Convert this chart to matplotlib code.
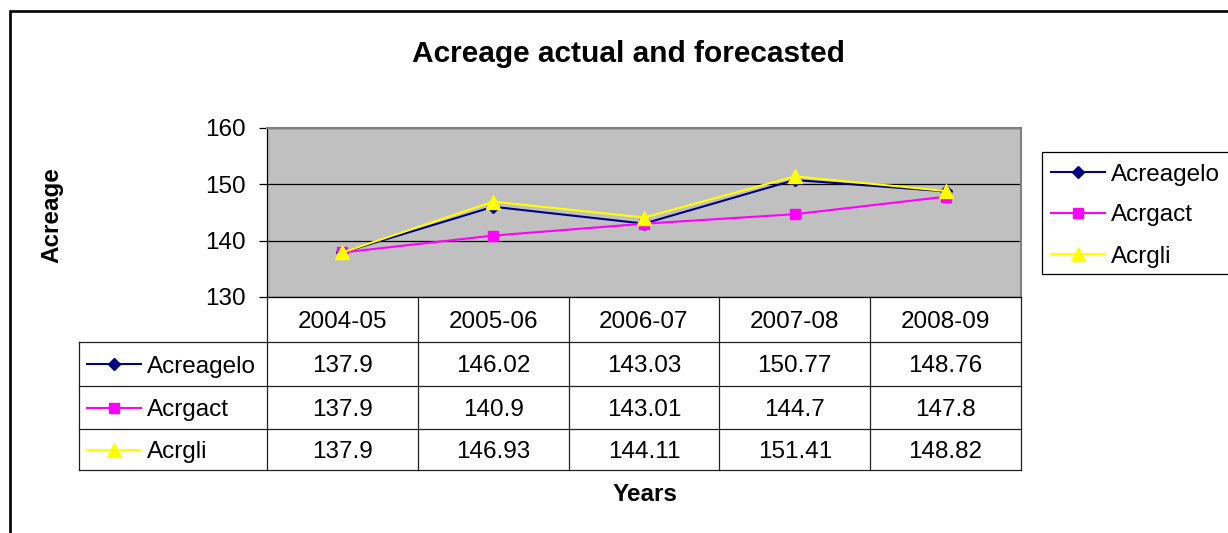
import matplotlib
matplotlib.use("Agg")
import matplotlib.pyplot as plt
from matplotlib.lines import Line2D
from matplotlib.patches import Rectangle

# ---- data ----
years = ["2004-05", "2005-06", "2006-07", "2007-08", "2008-09"]
acreagelo = [137.9, 146.02, 143.03, 150.77, 148.76]
acrgact = [137.9, 140.9, 143.01, 144.7, 147.8]
acrgli = [137.9, 146.93, 144.11, 151.41, 148.82]
series_names = ["Acreagelo", "Acrgact", "Acrgli"]
y_ticks = [130, 140, 150, 160]
title = "Acreage actual and forecasted"
x_label = "Years"
y_label = "Acreage"

plt.rcParams['font.family'] = ['Liberation Sans', 'DejaVu Sans']

W, H = 1228, 533
fig = plt.figure(figsize=(W / 100, H / 100), dpi=100)


def fx(x):
    return x / W


def fy(y):
    return 1 - y / H


FS = 17.5
DY = 2.5  # visual centering offset for digits/caps

styles = [
    dict(color='#000080', marker='D', ms=5.8),
    dict(color='#FF00FF', marker='s', ms=7.8),
    dict(color='#FFFF00', marker='^', ms=9.5),
]
all_series = [acreagelo, acrgact, acrgli]

# outer frame
fig.add_artist(Rectangle((fx(10), fy(600)), (1300 - 10) / W, (600 - 11) / H,
                         transform=fig.transFigure, fill=False,
                         edgecolor='black', lw=1.9))

# plot area
L, R, T, B = 267, 1021, 128, 297
ax = fig.add_axes([fx(L), fy(B), (R - L) / W, (B - T) / H])
ax.set_facecolor('#C0C0C0')
ax.set_xlim(-0.5, len(years) - 0.5)
ax.set_ylim(y_ticks[0], y_ticks[-1])
ax.set_yticks(y_ticks)
ax.set_xticks([])
ax.yaxis.grid(True, color='black', lw=0.9)
ax.set_axisbelow(True)
ax.tick_params(axis='y', length=6, width=0.9, labelsize=FS, pad=9, colors='black')
for k in ['top', 'right']:
    ax.spines[k].set_color('#808080')
    ax.spines[k].set_linewidth(1.5)
for k in ['left', 'bottom']:
    ax.spines[k].set_color('black')
    ax.spines[k].set_linewidth(0.9)

xs = list(range(len(years)))
for vals, st in zip(all_series, styles):
    ax.plot(xs, vals, color=st['color'], lw=1.5, marker=st['marker'],
            ms=st['ms'], mfc=st['color'], mec=st['color'], zorder=3)

# title and axis labels
fig.text(fx(628), fy(51 + DY), title, ha='center', va='center', fontsize=21.5, fontweight='bold')
fig.text(fx(645), fy(492 + DY), x_label, ha='center', va='center', fontsize=FS, fontweight='bold')
fig.text(fx(52), fy(215), y_label, ha='center', va='center', fontsize=FS,
         fontweight='bold', rotation=90)

# data table
tl = 79
row_lines = [342, 386, 429, 470]
colw = (R - L) / len(years)
lc = '#202020'


def hline(x0, x1, y):
    fig.add_artist(Line2D([fx(x0), fx(x1)], [fy(y), fy(y)], transform=fig.transFigure,
                          color=lc, lw=0.9))


def vline(x, y0, y1):
    fig.add_artist(Line2D([fx(x), fx(x)], [fy(y0), fy(y1)], transform=fig.transFigure,
                          color=lc, lw=0.9))


for y in row_lines:
    hline(tl, R, y)
vline(tl, row_lines[0], row_lines[-1])
for i in range(len(years) + 1):
    vline(L + i * colw, B, row_lines[-1])

for i, yr in enumerate(years):
    fig.text(fx(L + (i + 0.5) * colw), fy((B + row_lines[0]) / 2 + DY), yr,
             ha='center', va='center', fontsize=FS)

for r, (name, vals, st) in enumerate(zip(series_names, all_series, styles)):
    yc = (row_lines[r] + row_lines[r + 1]) / 2
    fig.add_artist(Line2D([fx(87), fx(141)], [fy(yc), fy(yc)], transform=fig.transFigure,
                          color=st['color'], lw=1.5))
    fig.add_artist(Line2D([fx(114)], [fy(yc)], transform=fig.transFigure, ls='none',
                          marker=st['marker'], ms=st['ms'], mfc=st['color'], mec=st['color']))
    fig.text(fx(147), fy(yc + DY), name, ha='left', va='center', fontsize=FS)
    for i, v in enumerate(vals):
        fig.text(fx(L + (i + 0.5) * colw), fy(yc + DY), f"{v:g}", ha='center', va='center',
                 fontsize=FS)

# legend
fig.add_artist(Rectangle((fx(1042), fy(274)), 250 / W, (274 - 152) / H,
                         transform=fig.transFigure, fill=False, edgecolor='black', lw=0.9))
for name, st, yc in zip(series_names, styles, [172, 213, 254]):
    fig.add_artist(Line2D([fx(1051), fx(1105)], [fy(yc), fy(yc)], transform=fig.transFigure,
                          color=st['color'], lw=1.5))
    fig.add_artist(Line2D([fx(1078)], [fy(yc)], transform=fig.transFigure, ls='none',
                          marker=st['marker'], ms=st['ms'], mfc=st['color'], mec=st['color']))
    fig.text(fx(1111), fy(yc + DY), name, ha='left', va='center', fontsize=FS)

fig.savefig("out.png", dpi=100, facecolor='white')
